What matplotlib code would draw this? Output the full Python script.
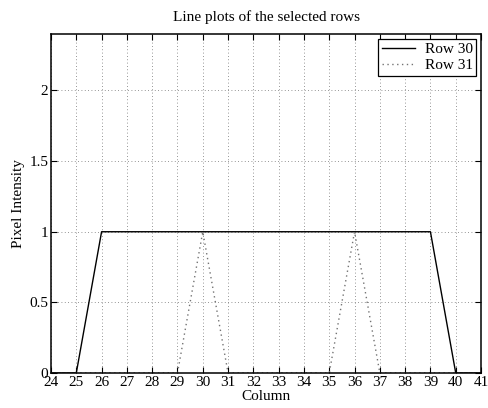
import matplotlib
matplotlib.use("Agg")
import matplotlib.pyplot as plt

columns = list(range(24, 42))
row30 = [0, 0, 1, 1, 1, 1, 1, 1, 1, 1, 1, 1, 1, 1, 1, 1, 0, 0]
row31 = [0, 0, 0, 0, 0, 0, 1, 0, 0, 0, 0, 0, 1, 0, 0, 0, 0, 0]
xticks = list(range(24, 42))
yticks = [0, 0.5, 1, 1.5, 2]

plt.rcParams['font.family'] = ['Liberation Serif', 'DejaVu Serif']
plt.rcParams['font.size'] = 11

fig = plt.figure(figsize=(4.88, 4.08), dpi=100)
ax = fig.add_axes([0.1045, 0.0858, 0.8812, 0.8309])

ax.plot(columns, row30, color='black', linewidth=1.0, label='Row 30', zorder=3)
ax.plot(columns, row31, color='0.45', linewidth=1.0, linestyle=(0, (1, 2.5)),
        label='Row 31', zorder=3)

ax.set_xlim(24, 41)
ax.set_ylim(0, 2.4)
ax.set_xticks(xticks)
ax.set_yticks(yticks)
ax.set_yticklabels(['0', '0.5', '1', '1.5', '2'])
ax.tick_params(direction='in', top=True, right=True, length=4, width=0.8, pad=2, labelsize=11)
ax.grid(True, linestyle=(0, (1, 3)), color='0.45', linewidth=0.6)
for s in ax.spines.values():
    s.set_linewidth(1.1)
    s.set_zorder(4)

ax.set_title('Line plots of the selected rows', fontsize=11, pad=9)
ax.set_xlabel('Column', labelpad=1)
ax.set_ylabel('Pixel Intensity', labelpad=3)

leg = ax.legend(loc='upper right', fancybox=False, framealpha=1, edgecolor='black',
                borderaxespad=0.3, handlelength=2.2, borderpad=0.25, labelspacing=0.15,
                handletextpad=0.6)
leg.get_frame().set_linewidth(0.9)

fig.savefig('out.png', dpi=100)
